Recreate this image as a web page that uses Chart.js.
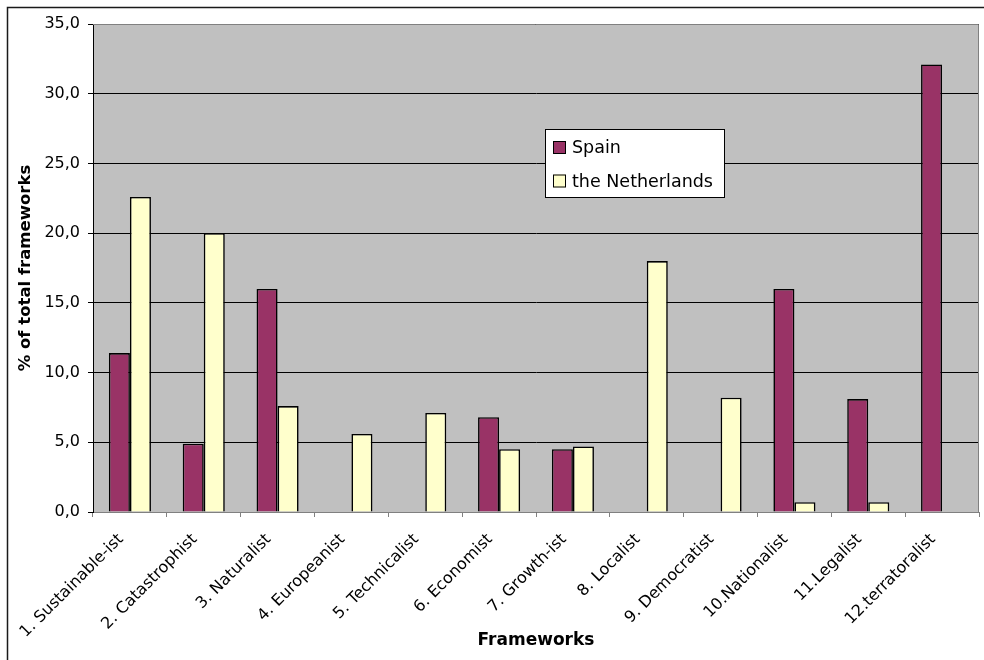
<!DOCTYPE html>
<html>
<head>
<meta charset="utf-8">
<script src="https://cdn.jsdelivr.net/npm/chart.js@4/dist/chart.umd.min.js"></script>
<style>
  html, body { margin: 0; padding: 0; background: #ffffff; }
  #wrap { width: 984px; height: 660px; }
</style>
</head>
<body>
<div id="wrap"><canvas id="c" width="984" height="660"></canvas></div>
<script>
// Framework categories and shares (% of total frameworks) per country
const categories = [
  '1. Sustainable-ist', '2. Catastrophist', '3. Naturalist', '4. Europeanist',
  '5. Technicalist', '6. Economist', '7. Growth-ist', '8. Localist',
  '9. Democratist', '10.Nationalist', '11.Legalist', '12.terratoralist'
];
const seriesNames = ['Spain', 'the Netherlands'];
const spain       = [11.4, 4.9, 16.0, null, null, 6.8, 4.5, null, null, 16.0, 8.1, 32.1];
const netherlands = [22.6, 20.0, 7.6, 5.6, 7.1, 4.5, 4.7, 18.0, 8.2, 0.7, 0.7, null];
const yTicks = [0, 5, 10, 15, 20, 25, 30, 35];

const FONT = '"DejaVu Sans", "Liberation Sans", Arial, sans-serif';
const colors = { spain: '#993366', netherlands: '#FFFFCC' };

// Gray plot background and the outer frame of the chart object
const framePlugin = {
  id: 'frame',
  beforeDraw(chart) {
    const { ctx, chartArea: a } = chart;
    ctx.save();
    ctx.fillStyle = '#ffffff';
    ctx.fillRect(0, 0, chart.width, chart.height);
    ctx.fillStyle = '#C0C0C0';
    ctx.fillRect(a.left, a.top, a.right - a.left, a.bottom - a.top);
    ctx.strokeStyle = '#1a1a1a';
    ctx.lineWidth = 1.5;
    ctx.strokeRect(7.5, 7.5, chart.width + 20, chart.height + 20);
    ctx.restore();
  },
  afterDraw(chart) {
    const { ctx, chartArea: a } = chart;
    ctx.save();
    ctx.strokeStyle = '#808080';
    ctx.lineWidth = 1;
    ctx.beginPath();
    ctx.moveTo(a.left, a.top + 0.5);
    ctx.lineTo(a.right - 0.5, a.top + 0.5);
    ctx.lineTo(a.right - 0.5, a.bottom);
    ctx.stroke();
    ctx.restore();
  }
};

// Boxed legend sitting inside the plot area
const boxLegend = {
  id: 'boxLegend',
  afterDatasetsDraw(chart) {
    const { ctx } = chart;
    const x = 545, y = 129, w = 179, h = 68;
    ctx.save();
    ctx.fillStyle = '#ffffff';
    ctx.fillRect(x, y, w, h);
    ctx.strokeStyle = '#000000';
    ctx.lineWidth = 1;
    ctx.strokeRect(x + 0.5, y + 0.5, w, h);
    ctx.font = '17.5px ' + FONT;
    ctx.textBaseline = 'alphabetic';
    ctx.textAlign = 'left';
    chart.data.datasets.forEach((ds, i) => {
      const sy = 141 + i * 33.5;
      ctx.fillStyle = ds.backgroundColor;
      ctx.fillRect(553, sy, 13, 13);
      ctx.strokeStyle = '#000000';
      ctx.strokeRect(553.5, sy + 0.5, 12, 12);
      ctx.fillStyle = '#000000';
      ctx.fillText(ds.label, 572, sy + 12);
    });
    ctx.restore();
  }
};

new Chart(document.getElementById('c'), {
  type: 'bar',
  data: {
    labels: categories,
    datasets: [
      { label: seriesNames[0], data: spain, backgroundColor: colors.spain,
        borderColor: '#000000', borderWidth: 1.6 },
      { label: seriesNames[1], data: netherlands, backgroundColor: colors.netherlands,
        borderColor: '#000000', borderWidth: 1.6 }
    ]
  },
  options: {
    responsive: false,
    animation: false,
    devicePixelRatio: 1,
    layout: { padding: { left: 0, top: 24, right: 5, bottom: 0 } },
    datasets: { bar: { categoryPercentage: 0.57, barPercentage: 1.0 } },
    plugins: { legend: { display: false }, tooltip: { enabled: false } },
    scales: {
      x: {
        afterFit(s) { s.height = 148; },
        grid: { display: true, drawOnChartArea: false, drawTicks: true, tickLength: 5,
                color: '#808080', offset: true },
        border: { display: true, color: '#808080', width: 1 },
        ticks: { color: '#000000', font: { family: FONT, size: 16 },
                 minRotation: 45, maxRotation: 45, autoSkip: false,
                 padding: 13, labelOffset: -9 },
        title: { display: true, text: 'Frameworks', color: '#000000',
                 font: { family: FONT, size: 17, weight: 'bold' },
                 padding: { top: 0, bottom: 9 } }
      },
      y: {
        min: 0, max: 35,
        afterFit(s) { s.width = 93; },
        afterBuildTicks(s) { s.ticks = yTicks.map(v => ({ value: v })); },
        grid: { color: '#000000', lineWidth: 1, tickLength: 5, tickColor: '#000000' },
        border: { display: true, color: '#000000', width: 1 },
        ticks: { color: '#000000', font: { family: FONT, size: 16 }, padding: 8,
                 callback: v => v.toFixed(1).replace('.', ',') },
        title: { display: true, text: '% of total frameworks', color: '#000000',
                 font: { family: FONT, size: 16.5, weight: 'bold' },
                 padding: { top: 16, bottom: 0 } }
      }
    }
  },
  plugins: [framePlugin, boxLegend]
});
</script>
</body>
</html>
